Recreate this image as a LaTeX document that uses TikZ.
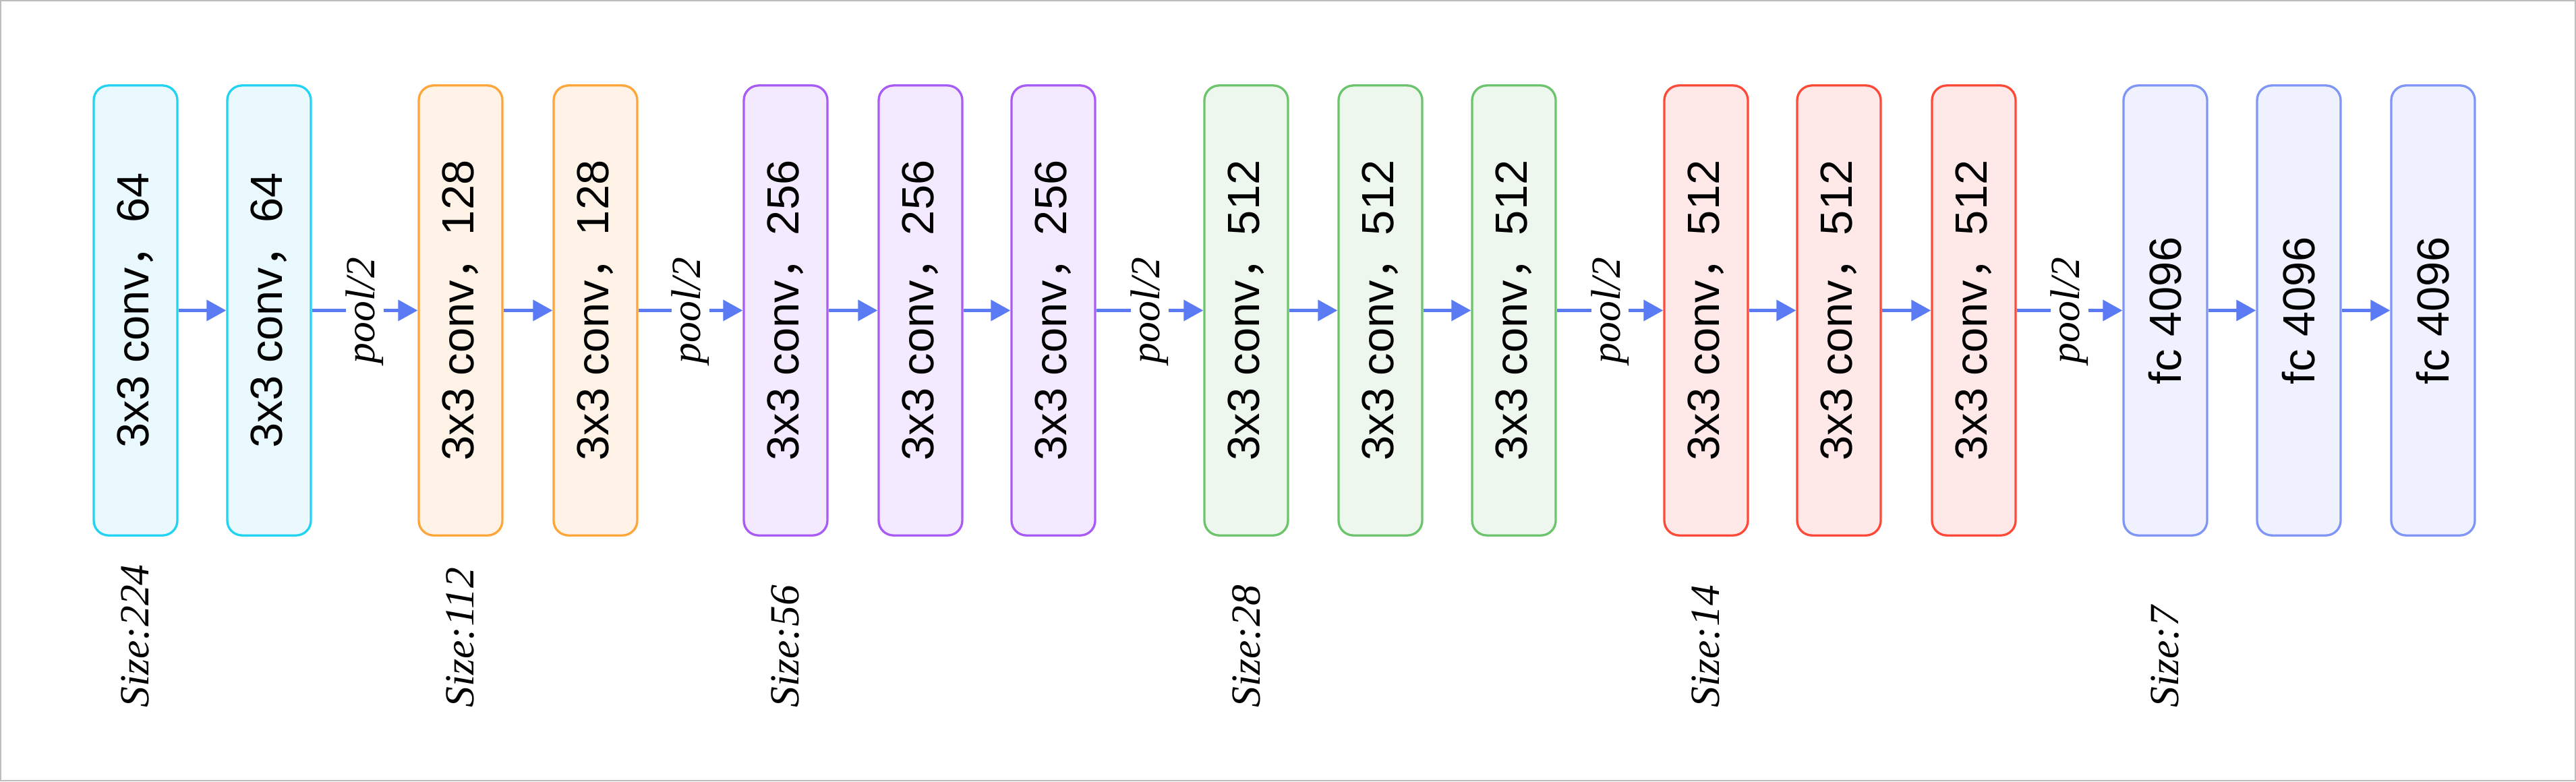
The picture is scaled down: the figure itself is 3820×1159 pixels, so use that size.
\documentclass[tikz,border=0pt]{standalone}
\usepackage{fontspec}
\usepackage{graphicx}
\newfontfamily\boxfont{Liberation Sans}
\newfontfamily\lblfont{Liberation Serif}
\newfontfamily\cjk{Noto Sans CJK SC}
\usetikzlibrary{arrows.meta}
\definecolor{c1d}{HTML}{22D3F2}
\definecolor{c1f}{HTML}{EAF9FE}
\definecolor{c2d}{HTML}{FFA63A}
\definecolor{c2f}{HTML}{FFF3E7}
\definecolor{c3d}{HTML}{A95CF5}
\definecolor{c3f}{HTML}{F4EAFF}
\definecolor{c4d}{HTML}{6CC46C}
\definecolor{c4f}{HTML}{EEF7EE}
\definecolor{c5d}{HTML}{FF4A3A}
\definecolor{c5f}{HTML}{FFE9E8}
\definecolor{c6d}{HTML}{7F96F6}
\definecolor{c6f}{HTML}{EFF2FE}
\definecolor{arrowc}{HTML}{5A7BF3}
\definecolor{framec}{HTML}{BDBDBD}
\tikzset{
  layer/.style={rectangle, rounded corners=0.22cm, line width=0.95pt,
    minimum width=1.24cm, minimum height=6.67cm, inner sep=0pt,
    font=\boxfont\fontsize{19}{21}\selectfont},
  g1/.style={layer, draw=c1d, fill=c1f},
  g2/.style={layer, draw=c2d, fill=c2f},
  g3/.style={layer, draw=c3d, fill=c3f},
  g4/.style={layer, draw=c4d, fill=c4f},
  g5/.style={layer, draw=c5d, fill=c5f},
  g6/.style={layer, draw=c6d, fill=c6f},
  conn/.style={draw=arrowc, line width=1.15pt, -{Triangle[length=0.29cm,width=0.31cm]}},
  poollbl/.style={fill=white, inner sep=0pt, rotate=90,
    font=\lblfont\itshape\fontsize{17.5}{19}\selectfont},
  sizelbl/.style={anchor=west, rotate=90, inner sep=0pt,
    font=\lblfont\itshape\fontsize{17.5}{19}\selectfont}
}
\newcommand{\convtxt}[1]{\rotatebox{90}{3x3 conv{\cjk ，}#1}}
\newcommand{\fctxt}{\rotatebox{90}{fc 4096}}
\begin{document}
\begin{tikzpicture}[x=0.01cm,y=0.01cm]
\useasboundingbox (0,0) rectangle (3820,1159);
\draw[framec, line width=0.6pt] (1,1) rectangle (3819,1158);
% layers
\node[g1] (b1)  at (201,698.5)  {\convtxt{64}};
\node[g1] (b2)  at (399,698.5)  {\convtxt{64}};
\node[g2] (b3)  at (683,698.5)  {\convtxt{128}};
\node[g2] (b4)  at (883,698.5)  {\convtxt{128}};
\node[g3] (b5)  at (1165,698.5) {\convtxt{256}};
\node[g3] (b6)  at (1365,698.5) {\convtxt{256}};
\node[g3] (b7)  at (1562,698.5) {\convtxt{256}};
\node[g4] (b8)  at (1848,698.5) {\convtxt{512}};
\node[g4] (b9)  at (2047,698.5) {\convtxt{512}};
\node[g4] (b10) at (2245,698.5) {\convtxt{512}};
\node[g5] (b11) at (2530,698.5) {\convtxt{512}};
\node[g5] (b12) at (2727,698.5) {\convtxt{512}};
\node[g5] (b13) at (2927,698.5) {\convtxt{512}};
\node[g6] (b14) at (3211,698.5) {\fctxt};
\node[g6] (b15) at (3409,698.5) {\fctxt};
\node[g6] (b16) at (3608,698.5) {\fctxt};
% connectors
\draw[conn] (b1) -- (b2);
\draw[conn] (b2) -- node[poollbl] {pool/2} (b3);
\draw[conn] (b3) -- (b4);
\draw[conn] (b4) -- node[poollbl] {pool/2} (b5);
\draw[conn] (b5) -- (b6);
\draw[conn] (b6) -- (b7);
\draw[conn] (b7) -- node[poollbl] {pool/2} (b8);
\draw[conn] (b8) -- (b9);
\draw[conn] (b9) -- (b10);
\draw[conn] (b10) -- node[poollbl] {pool/2} (b11);
\draw[conn] (b11) -- (b12);
\draw[conn] (b12) -- (b13);
\draw[conn] (b13) -- node[poollbl] {pool/2} (b14);
\draw[conn] (b14) -- (b15);
\draw[conn] (b15) -- (b16);
% size labels
\node[sizelbl] (s1) at (201,109)  {Size:224};
\node[sizelbl] (s2) at (683,109)  {Size:112};
\node[sizelbl] (s3) at (1165,109) {Size:56};
\node[sizelbl] (s4) at (1848,109) {Size:28};
\node[sizelbl] (s5) at (2530,109) {Size:14};
\node[sizelbl] (s6) at (3211,109) {Size:7};
\end{tikzpicture}
\end{document}
